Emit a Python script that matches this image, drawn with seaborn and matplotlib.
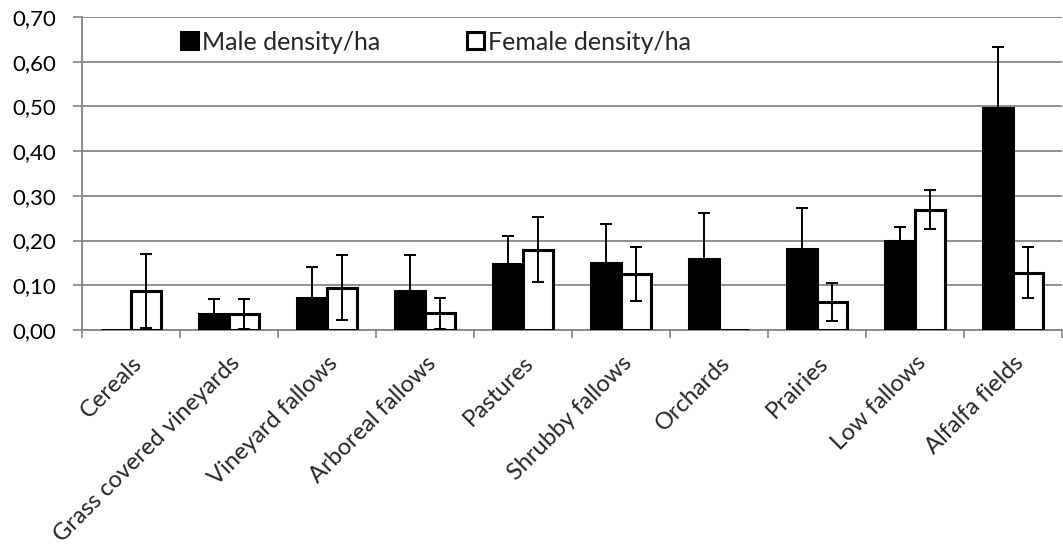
import pandas as pd
import numpy as np
import matplotlib
matplotlib.use("Agg")
import matplotlib.pyplot as plt
from matplotlib.ticker import FuncFormatter, FixedLocator
import seaborn as sns

habitats = ["Cereals", "Grass covered vineyards", "Vineyard fallows", "Arboreal fallows",
            "Pastures", "Shrubby fallows", "Orchards", "Prairies", "Low fallows", "Alfalfa fields"]
male_density = [0.000, 0.036, 0.072, 0.087, 0.147, 0.150, 0.159, 0.182, 0.200, 0.497]
male_err = [0.000, 0.033, 0.069, 0.081, 0.064, 0.087, 0.103, 0.091, 0.030, 0.135]
female_density = [0.087, 0.036, 0.095, 0.037, 0.180, 0.125, 0.000, 0.063, 0.269, 0.128]
female_err = [0.083, 0.033, 0.073, 0.034, 0.072, 0.060, 0.000, 0.043, 0.043, 0.057]
series = ["Male density/ha", "Female density/ha"]

df = pd.DataFrame({
    "habitat": habitats * 2,
    "density": male_density + female_density,
    "err": male_err + female_err,
    "sex": [series[0]] * len(habitats) + [series[1]] * len(habitats),
})

sns.set_style("white")
plt.rcParams["font.family"] = ["Lato", "DejaVu Sans"]

fig = plt.figure(figsize=(10.63, 5.54), dpi=100)
ax = fig.add_axes([82 / 1063, 1 - 330 / 554, 980 / 1063, 313 / 554])

sns.barplot(data=df, x="habitat", y="density", hue="sex", order=habitats, hue_order=series,
            palette=["black", "white"], width=0.62, gap=0, edgecolor="black",
            linewidth=2.2, saturation=1, errorbar=None, ax=ax, zorder=3)

# error bars from the bar positions seaborn drew
bars = ax.patches[: 2 * len(habitats)]
for i, p in enumerate(bars):
    e = df["err"].iloc[i]
    if e > 0:
        xc = p.get_x() + p.get_width() / 2
        ax.errorbar(xc, p.get_height(), yerr=e, color="black", elinewidth=1.4,
                    capsize=4.5, capthick=1.4, zorder=5, fmt="none")

ax.set_ylim(0, 0.70)
ax.set_xlim(-0.5, len(habitats) - 0.5)
ax.set_yticks(np.arange(0, 0.71, 0.10))
ax.yaxis.set_major_formatter(FuncFormatter(lambda v, _: f"{v:.2f}".replace(".", ",")))
ax.grid(axis="y", color="#868686", linewidth=1.3, zorder=0)
ax.set_axisbelow(True)

for s in ["top", "right"]:
    ax.spines[s].set_visible(False)
for s in ["left", "bottom"]:
    ax.spines[s].set_color("#868686")
    ax.spines[s].set_linewidth(1.3)

ax.tick_params(axis="y", which="major", length=6.5, color="#868686", width=1.2,
               pad=12, labelsize=16, labelcolor="black", left=True)
ax.xaxis.set_minor_locator(FixedLocator(np.arange(-0.5, len(habitats), 1.0)))
ax.tick_params(axis="x", which="minor", length=6, color="#868686", width=1.2, bottom=True)
ax.tick_params(axis="x", which="major", length=0, pad=16, labelsize=17)
for lbl in ax.get_xticklabels():
    lbl.set_rotation(45)
    lbl.set_ha("right")
    lbl.set_va("top")
    lbl.set_rotation_mode("anchor")

ax.set_xlabel("")
ax.set_ylabel("")

ax.legend(loc="center left", bbox_to_anchor=(0.101, 0.92), ncol=2, frameon=False,
          fontsize=18, handlelength=0.68, handleheight=0.68, handletextpad=0.15,
          columnspacing=3.5, borderaxespad=0, borderpad=0)

fig.savefig("out.png", dpi=100)
